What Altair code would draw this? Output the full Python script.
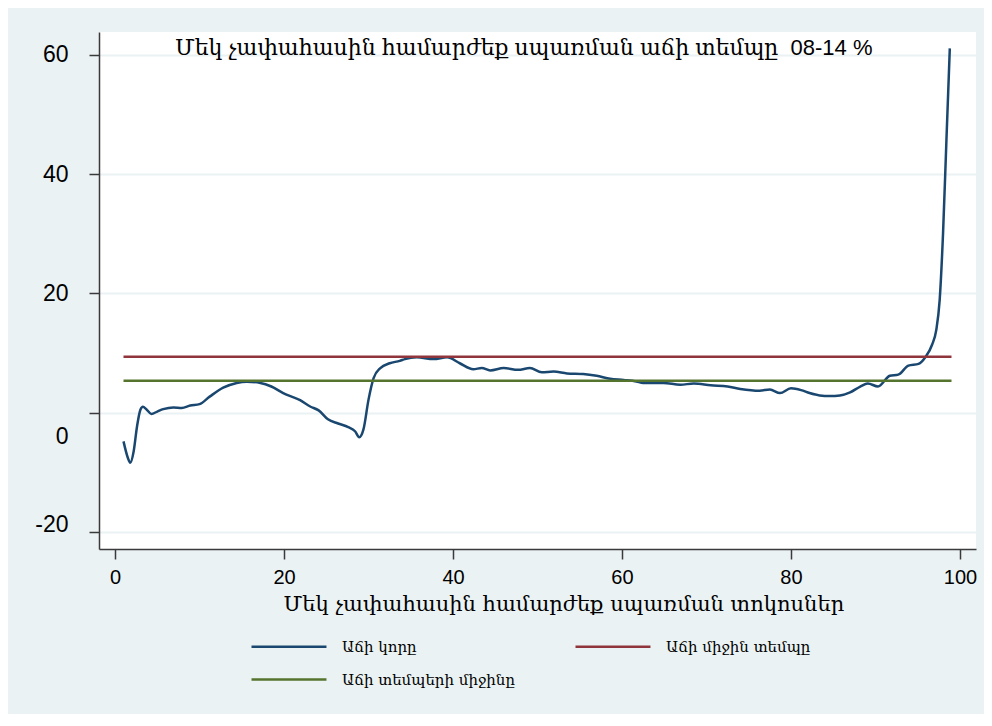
import altair as alt
import pandas as pd

# ---- data ----
CURVE_X = [1.0, 1.5, 1.8, 2.2, 2.6, 3.0, 3.3, 3.7, 4.3, 5.0, 5.7, 6.9, 7.9, 8.9, 10.0,
           11.2, 12.8, 14.4, 15.6, 17.2, 18.5, 19.9, 21.9, 23.1, 24.1, 25.2, 26.4,
           27.6, 28.4, 28.9, 29.4, 30.0, 30.6, 31.4, 32.5, 33.7, 34.3, 35.7, 37.7,
           39.3, 40.8, 42.4, 43.4, 44.4, 46.0, 47.7, 49.1, 50.5, 51.9, 53.5, 55.4,
           57.0, 58.6, 60.2, 61.7, 62.5, 64.9, 66.9, 68.5, 70.5, 72.5, 74.0, 76.3,
           77.5, 78.7, 80.0, 81.2, 82.2, 83.4, 84.6, 85.8, 87.0, 88.2, 89.1, 90.3,
           91.7, 92.7, 93.9, 95.1, 95.9, 96.7, 97.2, 97.6, 98.0, 98.4, 98.8]
CURVE_Y = [-4.8, -7.5, -8.4, -6.5, -2.3, 0.5, 1.0, 0.6, -0.2, 0.2, 0.6, 0.9, 0.8, 1.2, 1.45,
           2.7, 4.2, 5.0, 5.2, 5.0, 4.4, 3.3, 2.1, 1.05, 0.4, -1.1, -1.8,
           -2.4, -3.1, -4.1, -2.8, 2.2, 5.8, 7.5, 8.3, 8.7, 9.0, 9.3, 9.0,
           9.3, 8.3, 7.3, 7.5, 7.1, 7.5, 7.2, 7.5, 6.8, 6.9, 6.6, 6.5,
           6.2, 5.7, 5.5, 5.25, 5.0, 5.0, 4.7, 4.9, 4.6, 4.4, 4.0, 3.7,
           3.9, 3.3, 4.1, 3.8, 3.3, 2.9, 2.8, 2.9, 3.4, 4.4, 4.9, 4.4,
           6.2, 6.4, 7.9, 8.2, 9.3, 11.4, 13.9, 18.9, 30.1, 45.7, 61.1]
MEAN_X = [1, 99]
MEAN_GROWTH = 9.38      # Աճի միջին տեմպը
MEAN_OF_RATES = 5.36    # Աճի տեմպերի միջինը

SERIES = ["Աճի կորը", "Աճի միջին տեմպը", "Աճի տեմպերի միջինը"]
COLORS = ["#1a476f", "#90353b", "#55752f"]
TITLE = ["Մեկ չափահասին համարժեք սպառման աճի տեմպը\u00a0 08-14 %"]
X_TITLE = "Մեկ չափահասին համարժեք սպառման տոկոսներ"
X_TICKS = [0, 20, 40, 60, 80, 100]
Y_TICKS = [-20, 0, 20, 40, 60]

curve_df = pd.DataFrame({"x": CURVE_X, "y": CURVE_Y, "series": SERIES[0]})
means_df = pd.DataFrame({
    "x": MEAN_X + MEAN_X,
    "y": [MEAN_GROWTH] * 2 + [MEAN_OF_RATES] * 2,
    "series": [SERIES[1]] * 2 + [SERIES[2]] * 2,
})
title_df = pd.DataFrame({"t": TITLE})

AX = "#3a3a3a"
BG = "#eaf2f3"

x_enc = alt.X(
    "x:Q",
    scale=alt.Scale(domain=[-1.9, 101.9], nice=False, zero=False),
    axis=alt.Axis(
        values=X_TICKS, grid=False, title=X_TITLE,
        domainColor=AX, domainWidth=1.5, tickColor=AX, tickWidth=1.5, tickSize=10,
        labelFont="Liberation Sans", labelFontSize=20, labelColor="#000", labelPadding=8,
        titleFont="DejaVu Serif", titleFontSize=21, titleFontWeight="normal", titleColor="#000",
        titleAnchor="start", titleAlign="left", titleX=184, titleY=61, titleBaseline="alphabetic",
    ),
)
y_enc = alt.Y(
    "y:Q",
    scale=alt.Scale(domain=[-22.85, 63.85], nice=False, zero=False),
    axis=alt.Axis(
        values=Y_TICKS, title=None, grid=True, gridColor=BG, gridWidth=2,
        domainColor=AX, domainWidth=1.5, tickColor=AX, tickWidth=1.5, tickSize=10,
        labelFont="Liberation Sans", labelFontSize=23, labelColor="#000", labelPadding=21,
        labelExpr="datum.value + ''",
        labelOffset={"condition": [{"test": "datum.value === 0", "value": 24},
                                   {"test": "datum.value === -20", "value": -8}],
                     "value": 0},
    ),
)
# legend line symbol: 34px box, path spans 75px starting at the entry's left edge
color_enc = alt.Color(
    "series:N",
    scale=alt.Scale(domain=SERIES, range=COLORS),
    legend=alt.Legend(
        title=None, orient="none", legendX=151, legendY=596, columns=2,
        direction="horizontal",
        symbolType="M-1,0H3.41", symbolSize=1156, symbolStrokeWidth=2.5,
        labelFont="DejaVu Serif", labelFontSize=15, labelColor="#000", labelOffset=55,
        columnPadding=55, rowPadding=6, labelLimit=400,
    ),
)

curve = alt.Chart(curve_df).mark_line(strokeWidth=2.5, interpolate="monotone").encode(
    x=x_enc, y=y_enc, color=color_enc
)
means = alt.Chart(means_df).mark_line(strokeWidth=2.5).encode(
    x="x:Q", y="y:Q", color="series:N", detail="series:N"
)
title = alt.Chart(title_df).mark_text(
    font="Liberation Sans, DejaVu Serif", fontSize=22, align="left", baseline="alphabetic",
    color="#000",
).encode(text="t:N", x=alt.value(76), y=alt.value(23))

chart = alt.layer(curve, means, title).properties(
    width=877, height=517,
    autosize=alt.AutoSizeParams(type="none"),
    padding={"left": 91, "top": 24, "right": 8, "bottom": 165},
    background=BG,
).configure_view(stroke=None, fill="white")

chart.save("out.html", embed_options={"renderer": "svg", "actions": False})
